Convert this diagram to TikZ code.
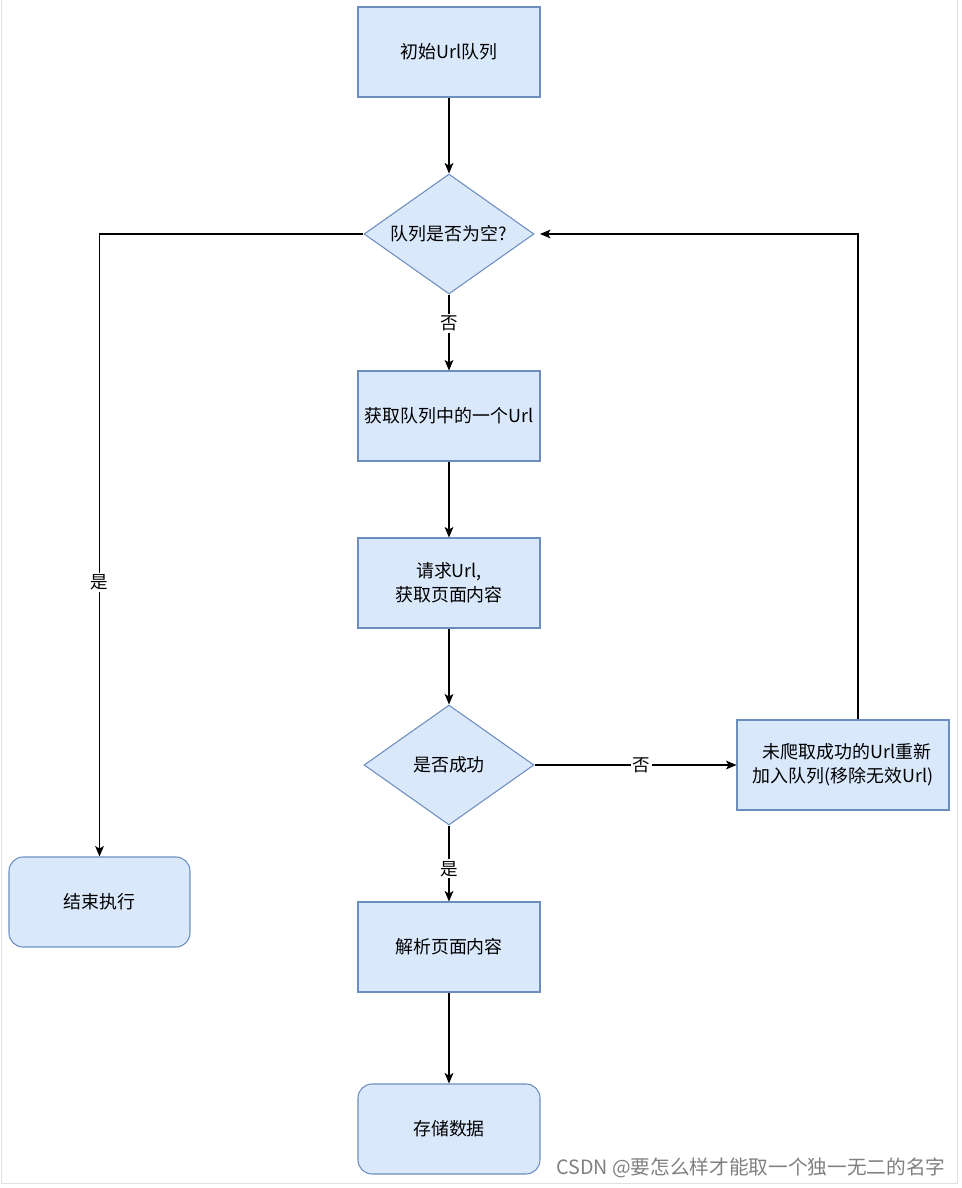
\documentclass[tikz,border=0pt]{standalone}
\usepackage{fontspec}
\setmainfont{Noto Sans CJK SC}
\usetikzlibrary{shapes.geometric, arrows.meta, positioning}
\definecolor{fillblue}{HTML}{DAE8FC}
\definecolor{strokeblue}{HTML}{6C8EBF}

\begin{document}
\begin{tikzpicture}[x=0.02cm, y=-0.02cm,
    box/.style={draw=strokeblue, fill=fillblue, line width=0.6pt, minimum width=3.64cm, minimum height=1.8cm, align=center, inner sep=1pt, font=\fontsize{10.2}{13.5}\selectfont},
    roundbox/.style={box, rounded corners=0.28cm},
    decision/.style={diamond, shape aspect=1.42, draw=strokeblue, fill=fillblue, line width=0.6pt, minimum width=3.4cm, minimum height=2.4cm, inner sep=0pt, font=\fontsize{10.2}{12}\selectfont},
    flow/.style={line width=0.6pt, -{Stealth[length=6pt, width=5pt, inset=1.5pt]}},
    lbl/.style={fill=white, inner sep=1pt, font=\fontsize{10}{11}\selectfont}]
\useasboundingbox (0,0) rectangle (962,1188);
\draw[black!12, line width=0.5pt] (1,0) -- (1,1183) -- (957,1183) -- (957,0);

\node[box] (start) at (449,52) {初始Url队列};
\node[decision] (isempty) at (449,234) {队列是否为空?};
\node[box] (fetch) at (449,416) {获取队列中的一个Url};
\node[box] (request) at (449,583) {请求Url,\\获取页面内容};
\node[decision] (success) at (449,765) {是否成功};
\node[box, minimum width=4.24cm] (retry) at (843,765) {\ \ 未爬取成功的Url重新\\加入队列(移除无效Url)};
\node[roundbox, minimum width=3.62cm] (finish) at (99.5,902) {结束执行};
\node[box] (parse) at (449,947) {解析页面内容};
\node[roundbox] (store) at (449,1129) {存储数据};

\coordinate (loopx) at (858,234);
\coordinate (backend) at (540,234);

\draw[flow] (start) -- (isempty);
\draw[flow] (isempty.west) -| node[lbl, pos=0.78] {是} (finish);
\draw[flow] (isempty) -- node[lbl, pos=0.38] {否} (fetch);
\draw[flow] (fetch) -- (request);
\draw[flow] (request) -- (success);
\draw[flow] (success) -- node[lbl, pos=0.53] {否} (retry);
\draw[flow] (success) -- node[lbl, pos=0.57] {是} (parse);
\draw[flow] (parse) -- (store);
\draw[flow] (retry.north -| loopx) |- (backend);

\node[text=black!50, anchor=east, inner sep=0pt, font=\fontsize{11.2}{13}\selectfont] (csdn) at (946,1168) {CSDN @要怎么样才能取一个独一无二的名字};
\end{tikzpicture}
\end{document}
